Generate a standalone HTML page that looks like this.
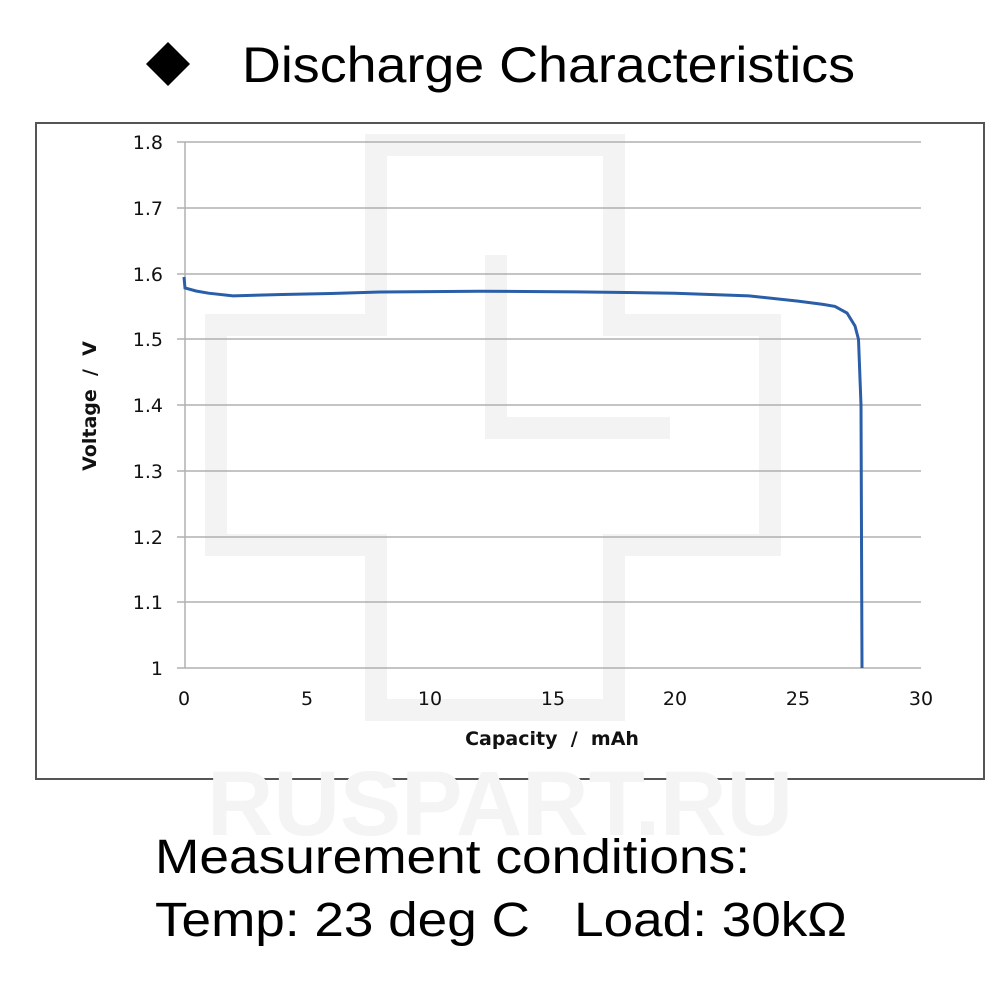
<!DOCTYPE html><html><head><style>body{margin:0;background:#fff;width:1000px;height:1000px;overflow:hidden}</style></head><body>
<svg width="1000" height="1000" xmlns="http://www.w3.org/2000/svg" font-family="Liberation Sans, sans-serif">
<rect width="1000" height="1000" fill="#fff"/>
<polygon points="146,64 168,42 190,64 168,86" fill="#000"/>
<text x="242" y="82" font-size="50" fill="#000" textLength="613" lengthAdjust="spacingAndGlyphs">Discharge Characteristics</text>
<rect x="36" y="123" width="948" height="656" fill="#fff" stroke="#555" stroke-width="2"/>
<g fill="none" stroke="#f3f3f3" stroke-width="22">
<path d="M376,145 H614 V325 H770 V545 H614 V710 H376 V545 H216 V325 H376 Z"/>
<path d="M496,255 V428 H670"/>
</g>
<text x="500" y="835" font-size="92" font-weight="bold" fill="#f4f4f4" text-anchor="middle">RUSPART.RU</text>
<g stroke="#b0b0b0" stroke-width="1.5">
<line x1="177" y1="142" x2="921" y2="142"/><line x1="177" y1="208" x2="921" y2="208"/>
<line x1="177" y1="274" x2="921" y2="274"/><line x1="177" y1="339" x2="921" y2="339"/>
<line x1="177" y1="405" x2="921" y2="405"/><line x1="177" y1="471" x2="921" y2="471"/>
<line x1="177" y1="537" x2="921" y2="537"/><line x1="177" y1="602" x2="921" y2="602"/>
<line x1="177" y1="668" x2="921" y2="668"/><line x1="185" y1="142" x2="185" y2="668"/>
</g>
<g font-family="DejaVu Sans, sans-serif" font-size="19" fill="#111" text-anchor="end">
<text x="163" y="149">1.8</text><text x="163" y="215">1.7</text><text x="163" y="281">1.6</text>
<text x="163" y="346">1.5</text><text x="163" y="412">1.4</text><text x="163" y="478">1.3</text>
<text x="163" y="544">1.2</text><text x="163" y="609">1.1</text><text x="163" y="675">1</text>
</g>
<g font-family="DejaVu Sans, sans-serif" font-size="19" fill="#111" text-anchor="middle">
<text x="184" y="705">0</text><text x="307" y="705">5</text><text x="430" y="705">10</text>
<text x="553" y="705">15</text><text x="675" y="705">20</text><text x="798" y="705">25</text><text x="921" y="705">30</text>
<text x="552" y="745" font-weight="bold" font-size="19" xml:space="preserve">Capacity  /  mAh</text>
<text transform="translate(96,406) rotate(-90)" font-weight="bold" font-size="19" xml:space="preserve">Voltage  /  V</text>
</g>
<polyline fill="none" stroke="#2a5ea8" stroke-width="3" points="184,277 185,288 196,291 208.6,293.2 233,295.9 282,294.5 331,293.5 380,292 479,291.2 577,291.9 675,293.2 749,295.9 798,301.1 823,304.4 835,306.4 847,313 855,326 858.5,339.3 861,405 862,668"/>
<text x="155" y="873" font-size="48" fill="#000" textLength="595" lengthAdjust="spacingAndGlyphs">Measurement conditions:</text>
<text x="155" y="936" font-size="48" fill="#000" xml:space="preserve" textLength="692" lengthAdjust="spacingAndGlyphs">Temp: 23 deg C   Load: 30kΩ</text>
</svg></body></html>
